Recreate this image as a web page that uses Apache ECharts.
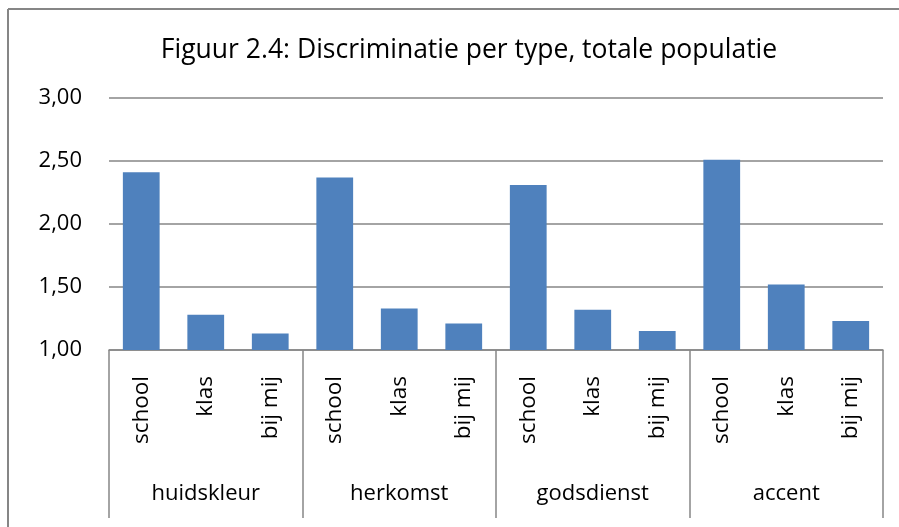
<!DOCTYPE html>
<html>
<head>
<meta charset="utf-8">
<script src="https://cdn.jsdelivr.net/npm/echarts@6/dist/echarts.min.js"></script>
<style>html,body{margin:0;padding:0;background:#fff;overflow:hidden;}#c{width:899px;height:527px;}</style>
</head>
<body>
<div id="c"></div>
<script>
var title = 'Figuur 2.4: Discriminatie per type, totale populatie';
var groups = ['huidskleur', 'herkomst', 'godsdienst', 'accent'];
var subTypes = ['school', 'klas', 'bij mij'];
var huidskleur = [2.41, 1.28, 1.13];
var herkomst = [2.37, 1.33, 1.21];
var godsdienst = [2.31, 1.32, 1.15];
var accent = [2.51, 1.52, 1.23];
var yTicks = [1.0, 1.5, 2.0, 2.5, 3.0];

var cats = [];
var vals = [];
[huidskleur, herkomst, godsdienst, accent].forEach(function (arr, gi) {
  arr.forEach(function (v, i) {
    cats.push(groups[gi] + '|' + subTypes[i]);
    vals.push(v);
  });
});

var FONT = 'Open Sans';
var chart = echarts.init(document.getElementById('c'));
chart.setOption({
  animation: false,
  backgroundColor: '#fff',
  title: {
    text: title,
    left: 464, top: 32, textAlign: 'center',
    textStyle: { fontFamily: FONT, fontSize: 26.5, fontWeight: 'normal', color: '#000' }
  },
  graphic: [{
    type: 'line',
    shape: { x1: 8, y1: 9, x2: 8, y2: 540 },
    style: { stroke: '#868686', lineWidth: 2 },
    silent: true, z: -1
  }, {
    type: 'line',
    shape: { x1: 8, y1: 9, x2: 899, y2: 9 },
    style: { stroke: '#868686', lineWidth: 2 },
    silent: true, z: -1
  }],
  grid: { left: 109, right: 16, top: 98, bottom: 177, containLabel: false },
  xAxis: [{
    type: 'category',
    data: cats,
    position: 'bottom',
    axisLine: { show: true, lineStyle: { color: '#868686', width: 1.5 } },
    axisTick: { show: false },
    axisLabel: {
      rotate: 90, margin: 26, interval: 0,
      fontFamily: FONT, fontSize: 22.5, color: '#000',
      formatter: function (v) { return v.split('|')[1]; }
    }
  }, {
    type: 'category',
    data: groups,
    position: 'bottom',
    axisLine: { show: false },
    axisTick: { show: true, length: 168, lineStyle: { color: '#868686', width: 1.5 } },
    axisLabel: { margin: 133, interval: 0, fontFamily: FONT, fontSize: 22, color: '#000' }
  }],
  yAxis: {
    type: 'value', min: 1, max: 3, interval: 0.5,
    axisLine: { show: false }, axisTick: { show: false },
    splitLine: { lineStyle: { color: '#868686', width: 1.5 } },
    axisLabel: {
      margin: 27, fontFamily: FONT, fontSize: 22, color: '#000',
      formatter: function (v) { return v.toFixed(2).replace('.', ','); }
    }
  },
  series: [{
    type: 'bar',
    data: vals,
    xAxisIndex: 0,
    barCategoryGap: '43%',
    itemStyle: { color: '#4F81BD' }
  }]
});
</script>
</body>
</html>
